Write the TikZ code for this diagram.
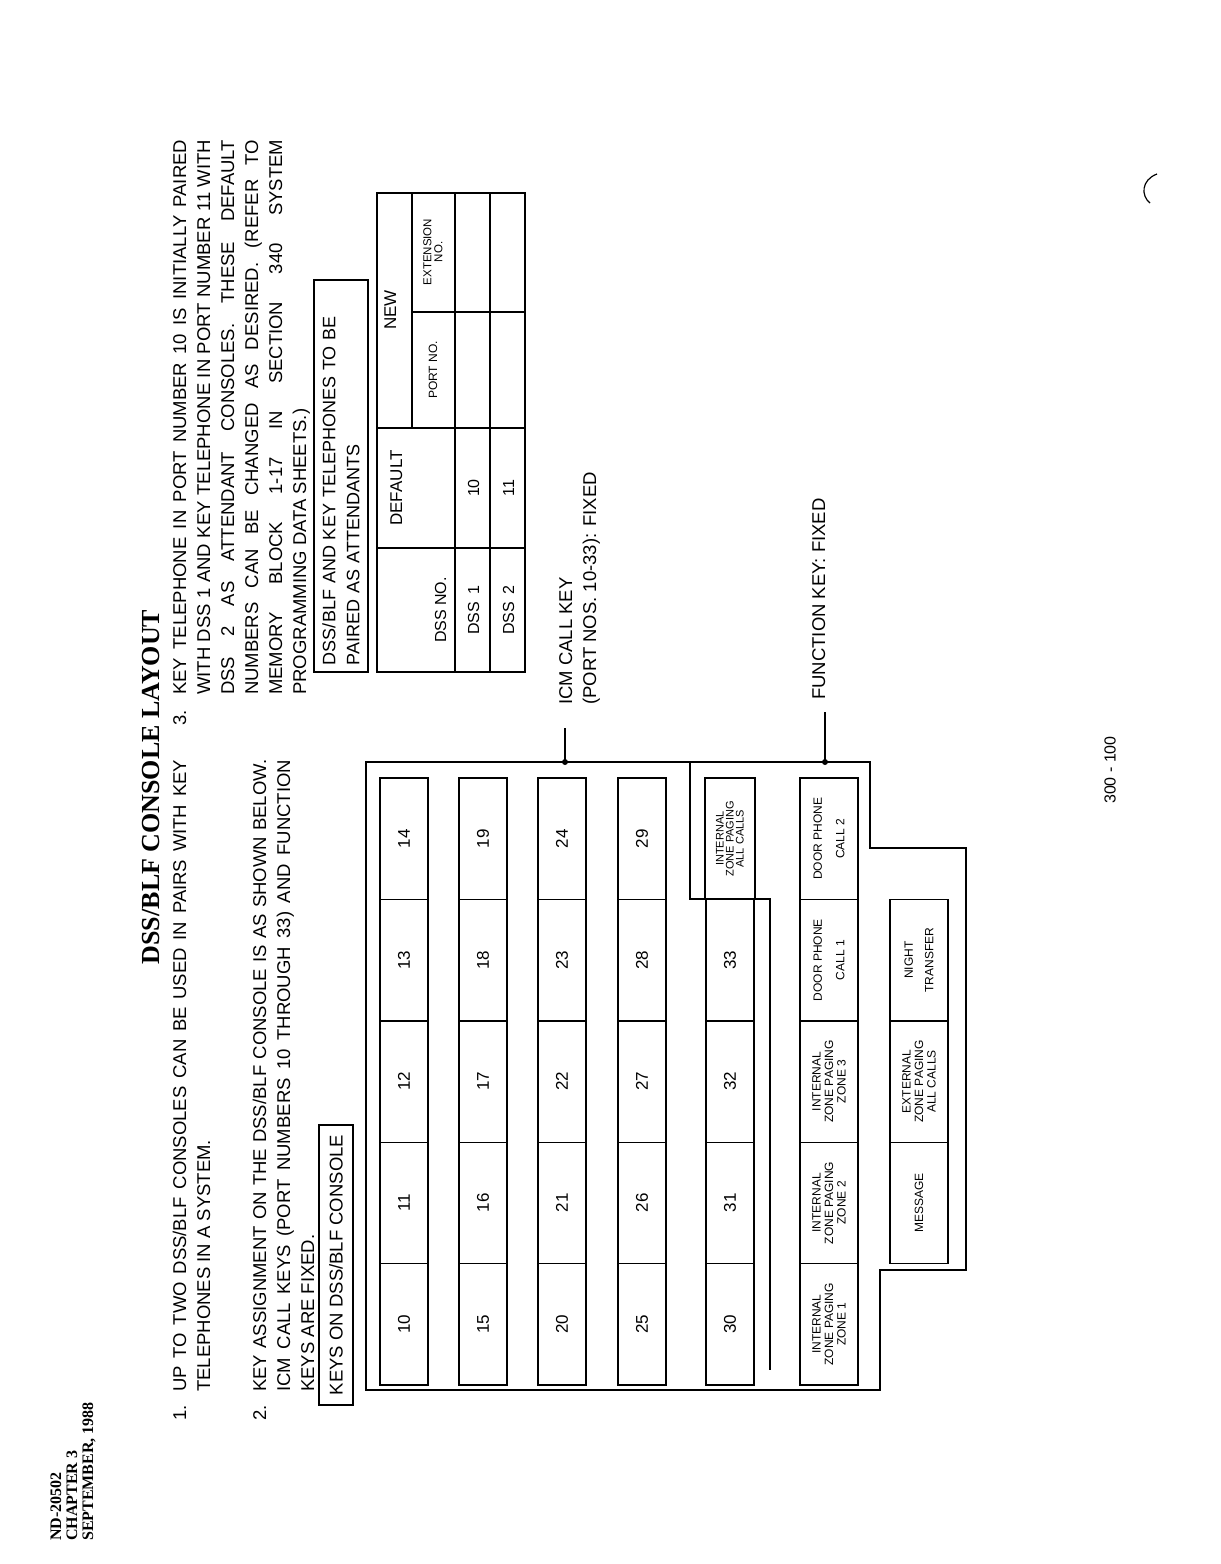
\documentclass[tikz,border=0pt]{standalone}
\usepackage{fontspec}
\setmainfont{Liberation Sans}
\newfontfamily\titlefont{Liberation Serif}
\usetikzlibrary{positioning,calc}

\begin{document}
\begin{tikzpicture}[
    x=1pt, y=-1pt,
    txt/.style={rotate=90, inner sep=0pt, anchor=base west, font=\fontsize{18.5}{25}\selectfont},
    hdr/.style={rotate=90, inner sep=0pt, anchor=base west, font=\titlefont\bfseries\fontsize{16}{16}\selectfont},
    cell/.style={rotate=90, inner sep=0pt, anchor=base, font=\fontsize{16}{18}\selectfont},
    key/.style={rectangle, draw, line width=1.4pt, rotate=90, minimum width=121.4pt,
                minimum height=48pt, inner sep=0pt, font=\fontsize{17}{20}\selectfont},
    fkey/.style={key, minimum height=58pt, align=center, font=\fontsize{12}{12.5}\selectfont},
    outline/.style={line width=1.5pt},
    dot/.style={circle, fill, inner sep=0pt, minimum size=6pt}
]
\useasboundingbox[fill=white] (0,0) rectangle (1221,1564);

% page header
\node[hdr] (hdr1) at (61,1541) {ND-20502};
\node[hdr] (hdr2) at (77,1541) {CHAPTER 3};
\node[hdr] (hdr3) at (93,1541) {SEPTEMBER, 1988};
\node[rotate=90, inner sep=0pt, anchor=base, font=\titlefont\bfseries\fontsize{26}{30}\selectfont]
    (title) at (159,787) {DSS/BLF CONSOLE LAYOUT};

% notes 1 and 2
\node[txt] (n1) at (186,1421) {1.};
\node[txt] (n1a) at (186,1392) {\makebox[632pt][s]{UP TO TWO DSS/BLF CONSOLES CAN BE USED IN PAIRS WITH KEY}};
\node[txt] (n1b) at (210,1392) {TELEPHONES IN A SYSTEM.};
\node[txt] (n2) at (266,1421) {2.};
\node[txt] (n2a) at (266,1392) {\makebox[632pt][s]{KEY ASSIGNMENT ON THE DSS/BLF CONSOLE IS AS SHOWN BELOW.}};
\node[txt] (n2b) at (290,1392) {\makebox[632pt][s]{ICM CALL KEYS (PORT NUMBERS 10 THROUGH 33) AND FUNCTION}};
\node[txt] (n2c) at (314,1392) {KEYS ARE FIXED.};

% note 3
\node[txt] (n3) at (186,726) {3.};
\node[txt] (n3a) at (186,695) {\makebox[555pt][s]{KEY TELEPHONE IN PORT NUMBER 10 IS INITIALLY PAIRED}};
\node[txt] (n3b) at (210,695) {\makebox[555pt][s]{WITH DSS 1 AND KEY TELEPHONE IN PORT NUMBER 11 WITH}};
\node[txt] (n3c) at (234,695) {\makebox[555pt][s]{DSS 2 AS ATTENDANT CONSOLES. THESE DEFAULT}};
\node[txt] (n3d) at (258,695) {\makebox[555pt][s]{NUMBERS CAN BE CHANGED AS DESIRED. (REFER TO}};
\node[txt] (n3e) at (282,695) {\makebox[555pt][s]{MEMORY BLOCK 1-17 IN SECTION 340 SYSTEM}};
\node[txt] (n3f) at (306,695) {PROGRAMMING DATA SHEETS.)};

% attendant pairing table
\node[rotate=90, draw, outline, minimum width=392pt, minimum height=54pt, text width=378pt,
      align=left, font=\fontsize{18}{24}\selectfont] (pairbox) at (341,476)
    {DSS/BLF AND KEY TELEPHONES TO BE\\PAIRED AS ATTENDANTS};
\draw[outline] (377,193) rectangle (525,672);
\draw[outline] (377,548) -- (525,548);
\draw[outline] (377,428) -- (525,428);
\draw[outline] (412,193) -- (412,428);
\draw[outline] (412,312) -- (525,312);
\draw[outline] (455,193) -- (455,672);
\draw[outline] (490,193) -- (490,672);
\node[cell] (hdss) at (446,610) {DSS NO.};
\node[cell, font=\fontsize{17}{18}\selectfont] (hdef) at (402,488) {DEFAULT};
\node[cell, font=\fontsize{17}{18}\selectfont] (hnew) at (396,310) {NEW};
\node[cell, font=\fontsize{12}{13}\selectfont] (hport) at (437,370) {PORT NO.};
\node[cell, anchor=center, align=center, font=\fontsize{11.5}{11}\selectfont] (hext) at (433,252) {EXTENSION\\NO.};
\node[cell] (dss1) at (479,610) {DSS\enspace 1};
\node[cell] (def1) at (479,488) {10};
\node[cell] (dss2) at (514,610) {DSS\enspace 2};
\node[cell] (def2) at (514,488) {11};

% console
\node[rotate=90, draw, outline, minimum width=280pt, minimum height=34pt,
      font=\fontsize{18.5}{20}\selectfont] (keyslabel) at (336,1265) {KEYS ON DSS/BLF CONSOLE};
\draw[outline] (366,762) -- (870,762) -- (870,848) -- (966,848) -- (966,1270)
    -- (880,1270) -- (880,1390) -- (366,1390) -- cycle;
\draw[outline] (690,762) -- (690,899) -- (770,899) -- (770,1370);

\node[key] (k10) at (404,1324.3) {10};
\node[key] (k11) at (404,1202.9) {11};
\node[key] (k12) at (404,1081.5) {12};
\node[key] (k13) at (404,960.1) {13};
\node[key] (k14) at (404,838.7) {14};
\node[key] (k15) at (483,1324.3) {15};
\node[key] (k16) at (483,1202.9) {16};
\node[key] (k17) at (483,1081.5) {17};
\node[key] (k18) at (483,960.1) {18};
\node[key] (k19) at (483,838.7) {19};
\node[key] (k20) at (562,1324.3) {20};
\node[key] (k21) at (562,1202.9) {21};
\node[key] (k22) at (562,1081.5) {22};
\node[key] (k23) at (562,960.1) {23};
\node[key] (k24) at (562,838.7) {24};
\node[key] (k25) at (642,1324.3) {25};
\node[key] (k26) at (642,1202.9) {26};
\node[key] (k27) at (642,1081.5) {27};
\node[key] (k28) at (642,960.1) {28};
\node[key] (k29) at (642,838.7) {29};
\node[key] (k30) at (730,1324.3) {30};
\node[key] (k31) at (730,1202.9) {31};
\node[key] (k32) at (730,1081.5) {32};
\node[key] (k33) at (730,960.1) {33};
\node[fkey, minimum height=50pt, font=\fontsize{11}{10}\selectfont] (allcalls) at (730,838.7)
    {INTERNAL\\ZONE PAGING\\ALL CALLS};

% function keys
\node[fkey] (zone1) at (829,1324.3) {INTERNAL\\ZONE PAGING\\ZONE 1};
\node[fkey] (zone2) at (829,1202.9) {INTERNAL\\ZONE PAGING\\ZONE 2};
\node[fkey] (zone3) at (829,1081.5) {INTERNAL\\ZONE PAGING\\ZONE 3};
\node[fkey] (door1) at (829,960.1) {DOOR PHONE\\[10pt]CALL 1};
\node[fkey] (door2) at (829,838.7) {DOOR PHONE\\[10pt]CALL 2};
\node[fkey] (message) at (919,1202.9) {MESSAGE};
\node[fkey] (extzone) at (919,1081.5) {EXTERNAL\\ZONE PAGING\\ALL CALLS};
\node[fkey] (night) at (919,960.1) {NIGHT\\[8pt]TRANSFER};

% callouts
\node[dot] (icmdot) at (565,762) {};
\coordinate (icmend) at (565,728);
\draw[outline] (icmdot.center) -- (icmend);
\node[txt] (icm1) at (572,705) {ICM CALL KEY};
\node[txt] (icm2) at (596,705) {(PORT NOS. 10-33): FIXED};
\node[dot] (fndot) at (825,762) {};
\coordinate (fnend) at (825,712);
\draw[outline] (fndot.center) -- (fnend);
\node[txt] (fn1) at (825,700) {FUNCTION KEY: FIXED};

% page number
\node[rotate=90, inner sep=0pt, font=\fontsize{16}{18}\selectfont] (pageno) at (1110,770) {300 - 100};
\draw[line width=1.2pt] (1157,174) .. controls (1141,180) and (1141,196) .. (1150,203);
\end{tikzpicture}
\end{document}
